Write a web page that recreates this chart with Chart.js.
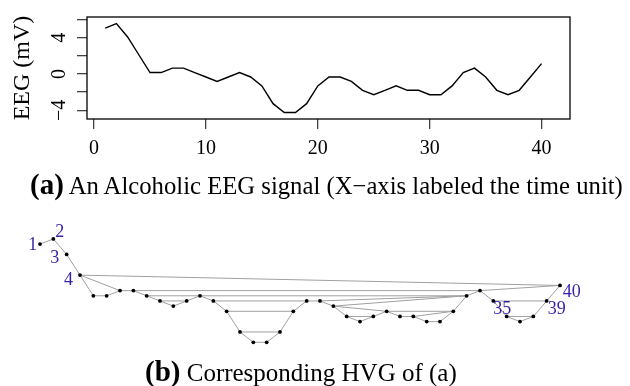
<!DOCTYPE html>
<html>
<head>
<meta charset="utf-8">
<script src="https://cdn.jsdelivr.net/npm/chart.js@4"></script>
<style>
body{margin:0;width:630px;height:386px;position:relative;background:#fff;overflow:hidden;font-family:"Liberation Serif",serif}
#c1{position:absolute;left:0;top:0}
#c2{position:absolute;left:0;top:190px}
.cap{position:absolute;white-space:nowrap;line-height:24px;color:#000}
.cap b{font-size:29px}
#capA{left:30px;top:172px;font-size:24.7px}
#capB{left:145px;top:359px;font-size:25px}
</style>
</head>
<body>
<canvas id="c1" width="630" height="165"></canvas>
<canvas id="c2" width="630" height="170"></canvas>
<div class="cap" id="capA"><b>(a)</b> An Alcoholic EEG signal (X−axis labeled the time unit)</div>
<div class="cap" id="capB"><b>(b)</b> Corresponding HVG of (a)</div>
<script>
// time units (x) and EEG values in mV
const timeUnits = [1,2,3,4,5,6,7,8,9,10,11,12,13,14,15,16,17,18,19,20,
                   21,22,23,24,25,26,27,28,29,30,31,32,33,34,35,36,37,38,39,40];
const eeg = [5.06,5.55,4.08,2.12,0.16,0.16,0.65,0.65,0.16,-0.33,
             -0.82,-0.33,0.16,-0.33,-1.31,-3.27,-4.25,-4.25,-3.27,-1.31,
             -0.33,-0.33,-0.82,-1.80,-2.29,-1.80,-1.31,-1.80,-1.80,-2.29,
             -2.29,-1.31,0.16,0.65,-0.33,-1.80,-2.29,-1.80,-0.33,1.14];
const xTicks = [0,10,20,30,40];
const yTicks = [-4,-2,0,2,4,6];
const yTickLabels = ['−4','','0','','4',''];
const labeledNodes = ['1','2','3','4','35','39','40'];

const serif = 'Liberation Serif';

// horizontal visibility graph: i~j if every value between is below both
function hvgEdges(v){
    let e = [];
    for(let i=0;i<v.length;i++){
        let maxBetween = -Infinity;
        for(let j=i+1;j<v.length;j++){
            if(maxBetween < Math.min(v[i],v[j])) e.push([i,j]);
            maxBetween = Math.max(maxBetween, v[j]);
            if(maxBetween >= v[i]) break;
        }
    }
    return e;
}

const boxPlugin = {
    id:'box',
    afterDatasetsDraw(chart){
        const {ctx, chartArea:a} = chart;
        ctx.save();
        ctx.strokeStyle = '#000';
        ctx.lineWidth = 1.3;
        ctx.strokeRect(a.left, a.top, a.right-a.left, a.bottom-a.top);
        ctx.restore();
    }
};

// R style y labels, turned on their side
const yLabelPlugin = {
    id:'ylabels',
    afterDraw(chart){
        const ctx = chart.ctx, sc = chart.scales.y;
        ctx.save();
        ctx.fillStyle = '#000';
        ctx.font = '20px "' + serif + '"';
        ctx.textAlign = 'center';
        ctx.textBaseline = 'alphabetic';
        yTicks.forEach((v,i)=>{
            if(!yTickLabels[i]) return;
            ctx.save();
            ctx.translate(65, sc.getPixelForValue(v));
            ctx.rotate(-Math.PI/2);
            ctx.fillText(yTickLabels[i], 0, 0);
            ctx.restore();
        });
        ctx.restore();
    }
};

new Chart(document.getElementById('c1'), {
    type:'line',
    data:{
        datasets:[{
            data: timeUnits.map((t,i)=>({x:t, y:eeg[i]})),
            borderColor:'#000',
            borderWidth:1.4,
            pointRadius:0,
            tension:0,
            fill:false
        }]
    },
    options:{
        responsive:false,
        animation:false,
        events:[],
        layout:{padding:{left:0, right:60, top:17, bottom:0}},
        plugins:{legend:{display:false}, tooltip:{enabled:false}},
        scales:{
            x:{
                type:'linear', min:-0.63, max:42.54,
                afterBuildTicks: s => { s.ticks = xTicks.map(v=>({value:v})); },
                afterFit: s => { s.height = 165-119; },
                grid:{drawOnChartArea:false, drawTicks:true, tickLength:10, color:'#444', lineWidth:1.3},
                border:{display:false},
                ticks:{color:'#000', font:{family:serif, size:20}, padding:8, maxRotation:0, autoSkip:false}
            },
            y:{
                type:'linear', min:-4.96, max:6.28,
                afterBuildTicks: s => { s.ticks = yTicks.map(v=>({value:v})); },
                afterFit: s => { s.width = 87; },
                grid:{drawOnChartArea:false, drawTicks:true, tickLength:10, color:'#444', lineWidth:1.3},
                border:{display:false},
                ticks:{display:false},
                title:{display:true, text:'EEG (mV)', color:'#000', font:{family:serif, size:24}, padding:{top:8, bottom:0}}
            }
        }
    },
    plugins:[boxPlugin, yLabelPlugin]
});

const edges = hvgEdges(eeg);
const edgeSets = edges.map(([i,j])=>({
    data:[{x:timeUnits[i], y:eeg[i]}, {x:timeUnits[j], y:eeg[j]}],
    showLine:true,
    borderColor:'#a0a0a0',
    borderWidth:1,
    pointRadius:0,
    clip:false
}));

const nodeLabelPlugin = {
    id:'nodelabels',
    afterDatasetsDraw(chart){
        const ctx = chart.ctx, sx = chart.scales.x, sy = chart.scales.y;
        const off = {'1':[-7.3,1], '2':[6.5,-7], '3':[-12,4], '4':[-11.5,5],
                     '35':[9,8], '39':[10,8], '40':[11.7,6.5]};
        ctx.save();
        ctx.fillStyle = '#3a1ea6';
        ctx.font = '18px "' + serif + '"';
        ctx.textAlign = 'center';
        ctx.textBaseline = 'middle';
        labeledNodes.forEach(n=>{
            const i = timeUnits.indexOf(Number(n));
            const o = off[n];
            ctx.fillText(n, sx.getPixelForValue(timeUnits[i]) + o[0], sy.getPixelForValue(eeg[i]) + o[1]);
        });
        ctx.restore();
    }
};

new Chart(document.getElementById('c2'), {
    type:'scatter',
    data:{
        datasets:[{
            data: timeUnits.map((t,i)=>({x:t, y:eeg[i]})),
            pointRadius:1.9,
            pointBackgroundColor:'#000',
            pointBorderWidth:0,
            clip:false
        }].concat(edgeSets)
    },
    options:{
        responsive:false,
        animation:false,
        events:[],
        layout:{padding:{left:26.67, right:56.67, top:44.2, bottom:9.8}},
        plugins:{legend:{display:false}, tooltip:{enabled:false}},
        scales:{
            x:{type:'linear', min:0, max:41, display:false},
            y:{type:'linear', min:-5, max:6, display:false}
        }
    },
    plugins:[nodeLabelPlugin]
});
</script>
</body>
</html>
